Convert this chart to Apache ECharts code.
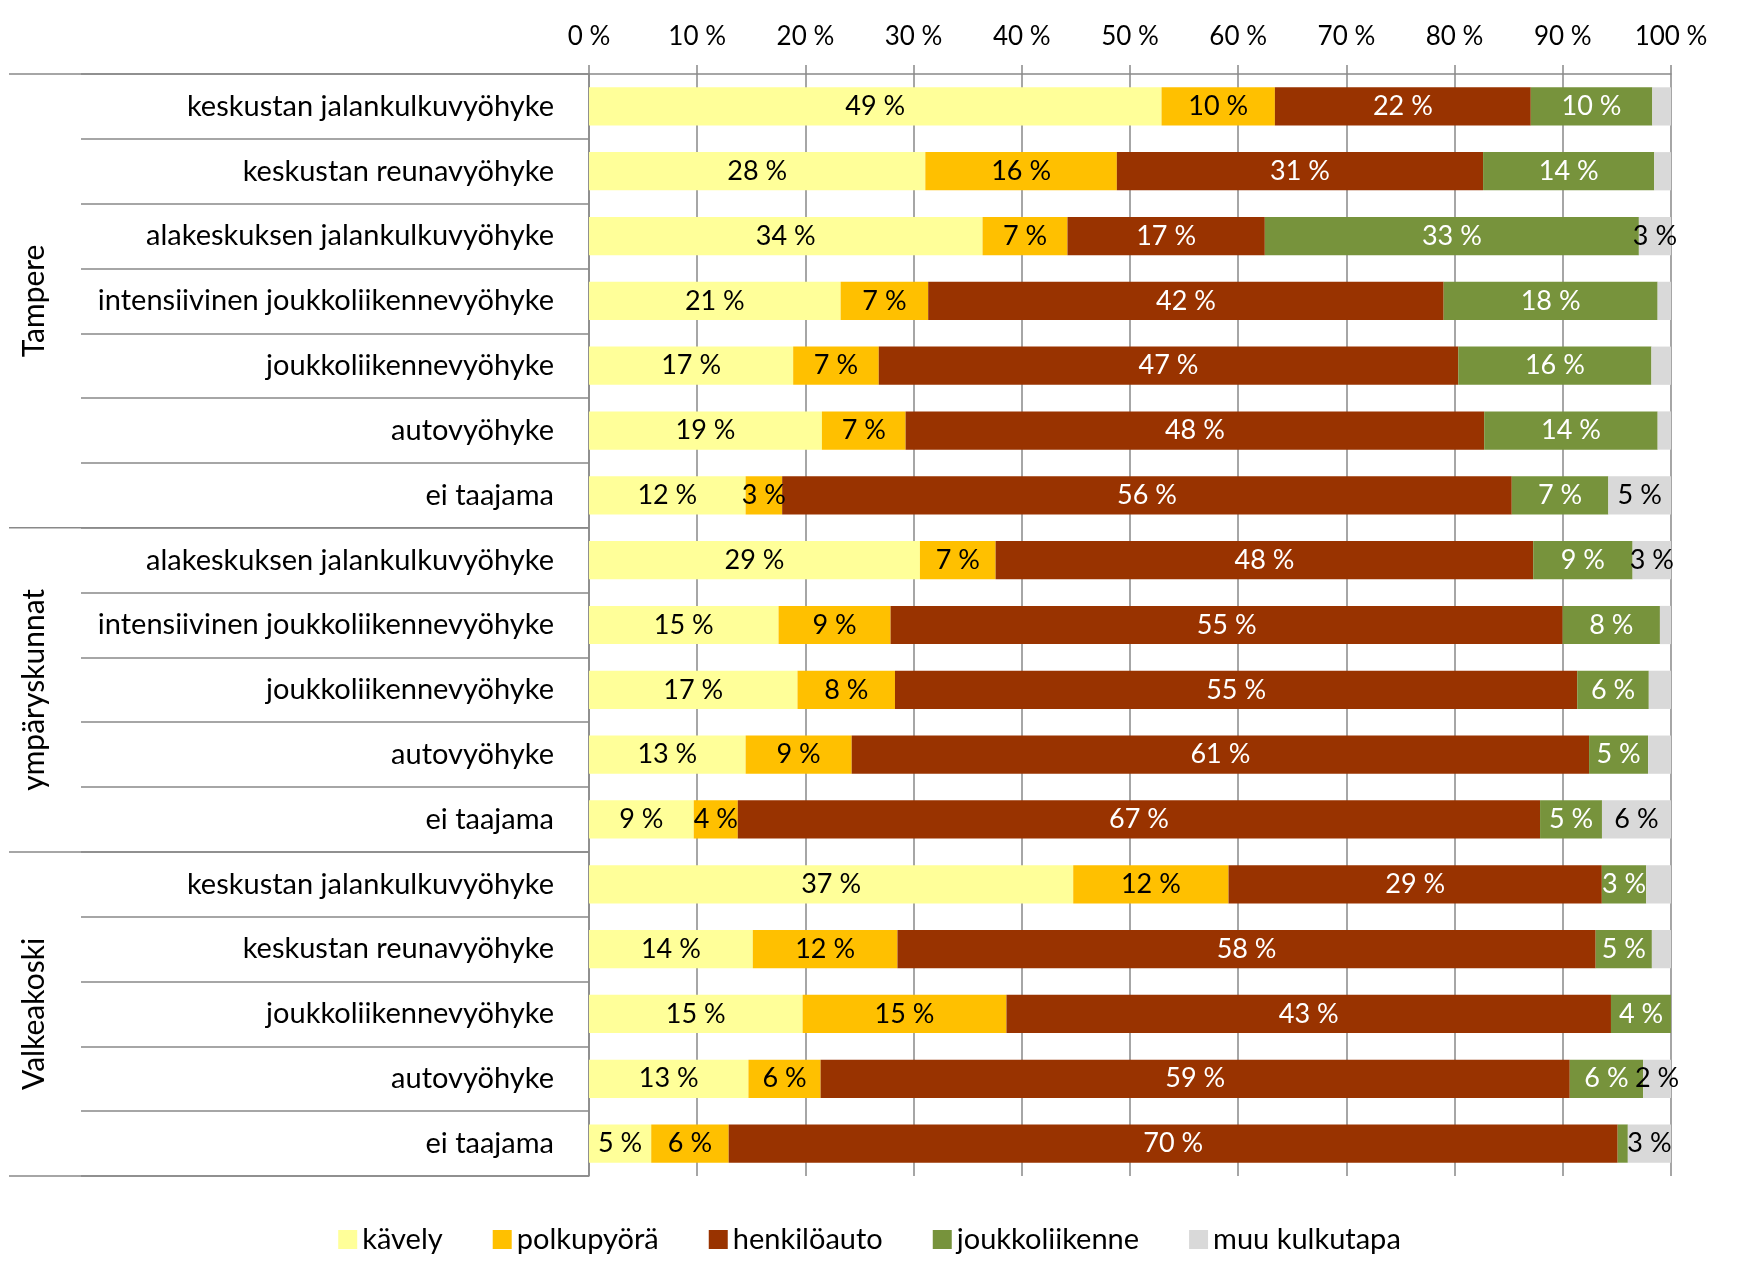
<!DOCTYPE html>
<html>
<head>
<meta charset="utf-8">
<script src="https://cdn.jsdelivr.net/npm/echarts@6/dist/echarts.min.js"></script>
<style>
html,body{margin:0;padding:0;background:#fff;}
#chart{width:1739px;height:1284px;}
</style>
</head>
<body>
<div id="chart"></div>
<script>
const categories = [
  'keskustan jalankulkuvyöhyke',
  'keskustan reunavyöhyke',
  'alakeskuksen jalankulkuvyöhyke',
  'intensiivinen joukkoliikennevyöhyke',
  'joukkoliikennevyöhyke',
  'autovyöhyke',
  'ei taajama',
  'alakeskuksen jalankulkuvyöhyke',
  'intensiivinen joukkoliikennevyöhyke',
  'joukkoliikennevyöhyke',
  'autovyöhyke',
  'ei taajama',
  'keskustan jalankulkuvyöhyke',
  'keskustan reunavyöhyke',
  'joukkoliikennevyöhyke',
  'autovyöhyke',
  'ei taajama'
];
const groups = ['Tampere', 'ympäryskunnat', 'Valkeakoski'];
const groupSizes = [7, 5, 5];
const seriesNames = ['kävely', 'polkupyörä', 'henkilöauto', 'joukkoliikenne', 'muu kulkutapa'];

const kavely         = [49.0, 28.1, 34.3, 20.7, 16.7, 19.2, 12.0, 29.3, 15.4, 16.9, 13.0, 8.8, 37.1, 13.7, 15.3, 12.6, 4.9];
const polkupyora     = [9.7, 16.0, 7.4, 7.2, 7.0, 6.9, 2.8, 6.7, 9.1, 7.9, 8.8, 3.7, 11.9, 12.1, 14.6, 5.7, 6.1];
const henkiloauto    = [21.9, 30.6, 17.2, 42.4, 47.4, 47.7, 55.9, 47.6, 54.6, 55.3, 61.2, 67.4, 28.6, 58.4, 43.3, 59.2, 70.0];
const joukkoliikenne = [10.4, 14.3, 32.6, 17.6, 15.8, 14.3, 7.4, 8.8, 7.9, 5.8, 4.9, 5.2, 3.4, 4.7, 4.3, 5.8, 0.8];
const muu            = [1.6, 1.4, 2.8, 1.1, 1.6, 1.1, 4.8, 3.4, 0.9, 1.8, 1.9, 5.8, 1.9, 1.6, 0, 2.2, 3.4];

const xTicks = [0, 10, 20, 30, 40, 50, 60, 70, 80, 90, 100];

const rawSeries = [kavely, polkupyora, henkiloauto, joukkoliikenne, muu];
const colors = ['#FFFF99', '#FFC000', '#993300', '#77933C', '#D9D9D9'];
const labelColors = ['#000000', '#000000', '#FFFFFF', '#FFFFFF', '#000000'];
const totals = categories.map((c, i) => rawSeries.reduce((s, arr) => s + arr[i], 0));
const keys = categories.map((c, i) => 'r' + i);

const FONT = 'Lato, "Open Sans", sans-serif';
const GRID_COLOR = '#898989';
const lineStyle = { color: GRID_COLOR, width: 1.5 };

const chart = echarts.init(document.getElementById('chart'), null, { renderer: 'canvas' });

const series = rawSeries.map((arr, s) => ({
  name: seriesNames[s],
  type: 'bar',
  stack: 'total',
  barCategoryGap: '41%',
  itemStyle: { color: colors[s] },
  emphasis: { disabled: true },
  label: {
    show: true,
    position: 'inside',
    fontFamily: FONT,
    fontSize: 27,
    color: labelColors[s],
    formatter: p => {
      const v = arr[p.dataIndex];
      return v >= 2 ? Math.round(v) + ' %' : '';
    }
  },
  data: arr.map((v, i) => v / totals[i] * 100)
}));

const option = {
  animation: false,
  backgroundColor: '#ffffff',
  textStyle: { fontFamily: FONT },
  grid: { left: 589, right: 68, top: 74, bottom: 108, containLabel: false },
  legend: {
    bottom: 25,
    left: 'center',
    itemWidth: 19,
    itemHeight: 19,
    itemGap: 50,
    icon: 'rect',
    textStyle: { fontFamily: FONT, fontSize: 29, color: '#000' },
    data: seriesNames
  },
  xAxis: {
    type: 'value',
    position: 'top',
    min: xTicks[0],
    max: xTicks[xTicks.length - 1],
    interval: 10,
    axisLine: { show: true, lineStyle },
    axisTick: { show: true, inside: false, length: 9, lineStyle },
    splitLine: { show: true, lineStyle },
    axisLabel: {
      formatter: v => v + ' %',
      fontFamily: FONT,
      fontSize: 26,
      color: '#000',
      margin: 24
    }
  },
  yAxis: {
    type: 'category',
    inverse: true,
    data: keys,
    axisLine: { show: true, lineStyle },
    axisTick: { show: true, length: 508, interval: 0, lineStyle },
    splitLine: { show: false },
    axisLabel: {
      interval: 0,
      margin: 35,
      fontFamily: FONT,
      fontSize: 29,
      color: '#000',
      formatter: (v, i) => categories[i]
    }
  },
  series
};

chart.setOption(option);

// Group separators and group labels, positioned through the axis scale
const y0 = chart.convertToPixel({ yAxisIndex: 0 }, 0);
const y1 = chart.convertToPixel({ yAxisIndex: 0 }, 1);
const step = y1 - y0;
const gridLeft = chart.convertToPixel({ xAxisIndex: 0 }, 0);
const graphics = [];
let start = 0;
const boundaryRows = [0];
groupSizes.forEach(n => { start += n; boundaryRows.push(start); });
boundaryRows.forEach(r => {
  const y = chart.convertToPixel({ yAxisIndex: 0 }, Math.min(r, categories.length - 1)) + (r >= categories.length ? step / 2 : -step / 2);
  graphics.push({
    type: 'line',
    shape: { x1: 9, y1: y, x2: gridLeft, y2: y },
    style: { stroke: GRID_COLOR, lineWidth: 1.5 },
    z: 10
  });
});
start = 0;
groups.forEach((g, gi) => {
  const first = start, last = start + groupSizes[gi] - 1;
  start += groupSizes[gi];
  const ya = chart.convertToPixel({ yAxisIndex: 0 }, first);
  const yb = chart.convertToPixel({ yAxisIndex: 0 }, last);
  graphics.push({
    type: 'text',
    x: 34,
    y: (ya + yb) / 2,
    rotation: Math.PI / 2,
    style: {
      text: g,
      fontFamily: FONT,
      fontSize: 30,
      fill: '#000',
      align: 'center',
      verticalAlign: 'middle'
    },
    z: 10
  });
});
chart.setOption({ graphic: graphics });
</script>
</body>
</html>
